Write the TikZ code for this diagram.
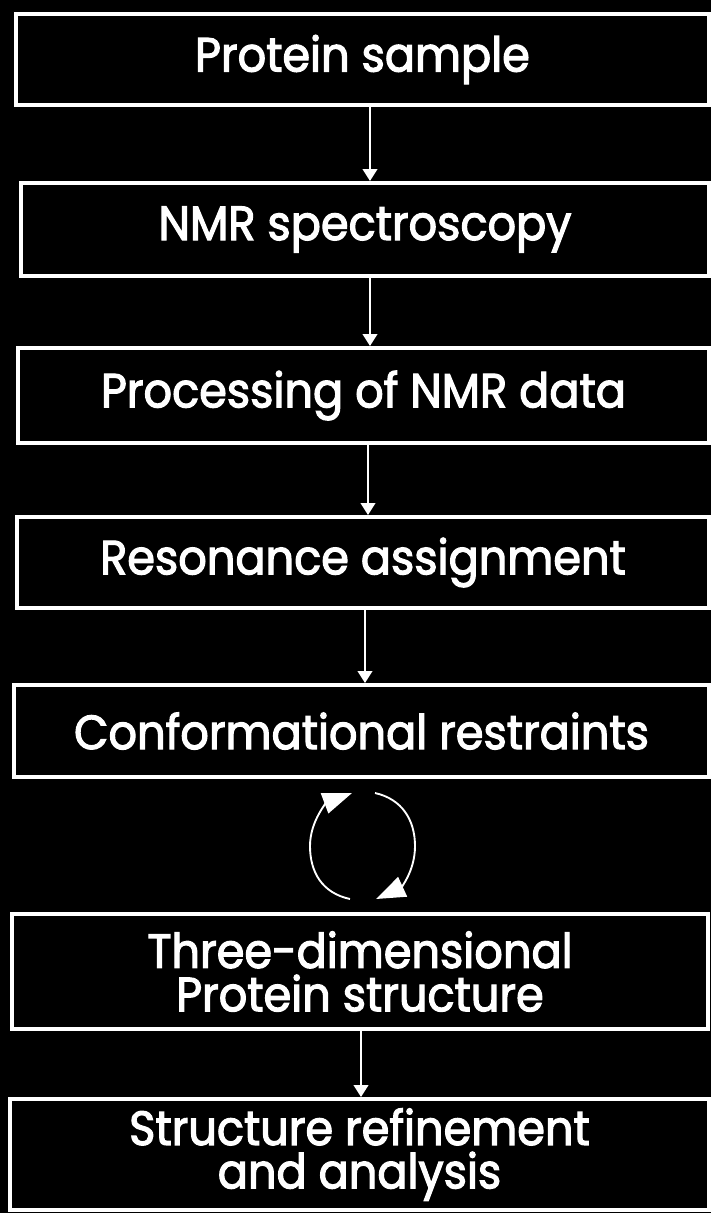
\documentclass[tikz,border=0pt]{standalone}
\usepackage{fontspec}
\setmainfont{Poppins}[FakeStretch=0.93, FakeBold=2.4, BoldFont=Poppins]
\usetikzlibrary{arrows.meta}
\newdimen\pxu \pxu=0.75pt

\begin{document}
\begin{tikzpicture}[x=0.75pt, y=-0.75pt,
  stagebox/.style={draw=white, line width=3pt, text=white, align=center,
    font=\fontsize{36}{32.5}\selectfont\bfseries},
  flow/.style={draw=white, line width=1.5pt, -{Triangle[length=9pt,width=11pt]}},
  loopflow/.style={draw=white, line width=1.4pt, -{Triangle[length=22pt,width=16pt]}}]

\fill[black] (0,0) rectangle (711,1213);

% Stages
\node[stagebox, minimum width=693\pxu, minimum height=91\pxu] (sample) at (362.5,59.5) {Protein sample};
\node[stagebox, minimum width=688\pxu, minimum height=93\pxu] (nmr) at (365,229.5) {NMR spectroscopy};
\node[stagebox, minimum width=691\pxu, minimum height=95\pxu] (proc) at (363.5,395.5) {Processing of NMR data};
\node[stagebox, minimum width=692\pxu, minimum height=91\pxu] (reso) at (363,562.5) {Resonance assignment};
\node[stagebox, minimum width=695\pxu, minimum height=92\pxu] (conf) at (361.5,731) {Conformational restraints};
\node[stagebox, minimum width=696\pxu, minimum height=115\pxu] (three) at (360,971.5) {Three-dimensional\\Protein structure};
\node[stagebox, minimum width=699\pxu, minimum height=111\pxu] (refine) at (359.5,1154.5) {Structure refinement\\and analysis};

% Steps
\draw[flow] ([xshift=7.5\pxu]sample.south) -- ([xshift=5\pxu]nmr.north);
\draw[flow] ([xshift=5\pxu]nmr.south) -- ([xshift=6.5\pxu]proc.north);
\draw[flow] ([xshift=4.5\pxu]proc.south) -- ([xshift=5\pxu]reso.north);
\draw[flow] ([xshift=2\pxu]reso.south) -- ([xshift=3.5\pxu]conf.north);
\draw[flow] ([xshift=1\pxu]three.south) -- ([xshift=1.5\pxu]refine.north);

% Iteration loop
\draw[loopflow] (350,899) .. controls (322,893) and (310,872) .. (310,846)
  .. controls (310,820) and (328,802) .. (352,793);
\draw[loopflow] (375,793) .. controls (402,799) and (415,820) .. (415,846)
  .. controls (415,872) and (400,888) .. (376,899);

\end{tikzpicture}
\end{document}
